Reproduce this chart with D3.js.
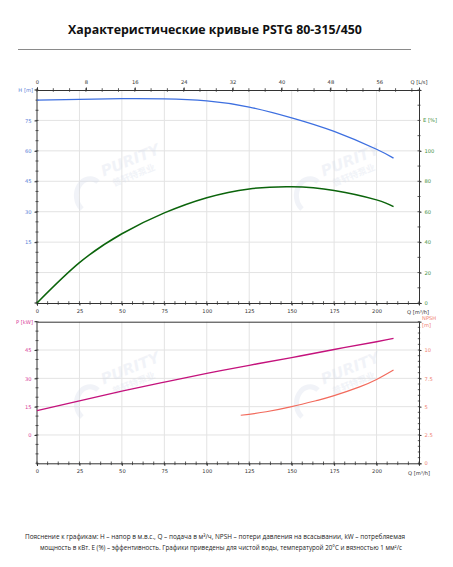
<!DOCTYPE html>
<html><head><meta charset="utf-8">
<script src="https://cdn.jsdelivr.net/npm/d3@7"></script>
<style>
html,body{margin:0;padding:0;background:#fff;}
svg{display:block;}
text{font-family:"DejaVu Sans",Verdana,sans-serif;}
</style></head>
<body>
<svg id="chart" width="453" height="567"></svg>
<script>
// ---------- data ----------
const titleText = "Характеристические кривые PSTG 80-315/450";
const qTicks = [0,25,50,75,100,125,150,175,200];
const lsTicks = [0,8,16,24,32,40,48,56];
const hTicks = [15,30,45,60,75];
const eTicks = [0,20,40,60,80,100];
const pTicks = [0,15,30,45];
const nTicks = [0,2.5,5,7.5,10];

const qCurve = [0,25,50,75,100,125,150,175,200,210];
const headH  = [85,85.4,85.7,85.6,84.6,81.6,76.3,69.6,60.8,56.4];
const effE   = [0,26.5,45.5,59.2,69.2,75,76.4,74,67.8,63.3];
const powerP = [12.9,18.1,23.2,28,32.6,36.9,41,45.3,49.4,51.2];
const qNpsh  = [120,135,150,165,175,190,200,210];
const npsh   = [4.24,4.55,5.0,5.55,5.97,6.75,7.4,8.24];

const note1 = "Пояснение к графикам: H – напор в м.в.с., Q – подача в м³/ч, NPSH – потери давления на всасывании, kW – потребляемая";
const note2 = "мощность в кВт. E (%) – эффентивность.  Графики приведены для чистой воды, температурой 20°C и вязностью 1 мм²/с";

// ---------- layout ----------
const svg = d3.select("#chart");
const L = 37, R = 419;
const top1 = 90, bot1 = 303;
const top2 = 321.7, bot2 = 463.3;

const cH = "#3d6fe0", cHl = "#5a7fd8";
const cE = "#0b640b", cEl = "#3f8f3f";
const cP = "#c4127c", cPl = "#d8409a";
const cN = "#f26a5c", cNl = "#f08272";
const gridC = "#e3e3e3", axC = "#333";
const fs = 5.2;

const x = d3.scaleLinear().domain([0,225]).range([L,R]);
const xLs = d3.scaleLinear().domain([0,62.5]).range([L,R]);
const yH = d3.scaleLinear().domain([-15,90]).range([bot1,top1]);
const yE = d3.scaleLinear().domain([0,140]).range([bot1,top1]);
const yP = d3.scaleLinear().domain([-15,60]).range([bot2,top2]);
const yN = d3.scaleLinear().domain([0,12.5]).range([bot2,top2]);

// title
svg.append("text").attr("x",215).attr("y",34).attr("text-anchor","middle")
  .style("font-family","'Open Sans',sans-serif").style("font-weight","bold").style("font-size","12.4px")
  .attr("fill","#111").text(titleText);
svg.append("line").attr("x1",18).attr("x2",411).attr("y1",49.5).attr("y2",49.5)
  .attr("stroke","#8a8a8a").attr("stroke-width",1);

// watermark
function watermark(cx, cy){
  const g = svg.append("g").attr("opacity",0.32);
  g.append("text").attr("x",cx).attr("y",cy).attr("text-anchor","middle")
    .attr("transform",`rotate(-22,${cx},${cy})`)
    .style("font-family","'DejaVu Sans',sans-serif").style("font-weight","bold").style("font-style","italic")
    .style("font-size","15px").attr("fill","#d5dcea").text("PURITY");
  g.append("text").attr("x",cx+3).attr("y",cy+13).attr("text-anchor","middle")
    .attr("transform",`rotate(-22,${cx+3},${cy+13})`)
    .style("font-family","'Noto Sans CJK SC',sans-serif").style("font-weight","bold")
    .style("font-size","9px").attr("fill","#d5dcea").text("普轩特泵业");
  g.append("path").attr("d",`M${cx-50},${cy+44} a13,16 0 1,1 16,-27`)
    .attr("fill","none").attr("stroke","#d5dcea").attr("stroke-width",5);
}

// ===== top panel grid =====
const gTop = svg.append("g");
gTop.selectAll(null).data(qTicks.filter(d=>d>0)).enter().append("line")
  .attr("x1",d=>x(d)).attr("x2",d=>x(d)).attr("y1",top1).attr("y2",bot1)
  .attr("stroke",gridC).attr("stroke-width",1);
gTop.selectAll(null).data([0,15,30,45,60,75]).enter().append("line")
  .attr("x1",L).attr("x2",R).attr("y1",d=>yH(d)).attr("y2",d=>yH(d))
  .attr("stroke",gridC).attr("stroke-width",1);

// ===== bottom panel grid =====
const gBot = svg.append("g");
gBot.selectAll(null).data(qTicks.filter(d=>d>0)).enter().append("line")
  .attr("x1",d=>x(d)).attr("x2",d=>x(d)).attr("y1",top2).attr("y2",bot2)
  .attr("stroke",gridC).attr("stroke-width",1);
gBot.selectAll(null).data(pTicks).enter().append("line")
  .attr("x1",L).attr("x2",R).attr("y1",d=>yP(d)).attr("y2",d=>yP(d))
  .attr("stroke",gridC).attr("stroke-width",1);

watermark(132,165); watermark(352,165);
watermark(132,373); watermark(352,373);

// ---- axes helpers ----
function styleAxis(sel, col){
  sel.select(".domain").attr("stroke",axC).attr("stroke-width",1);
  sel.selectAll(".tick line").attr("stroke",axC);
  sel.selectAll(".tick text").attr("fill",col).style("font-size",fs+"px").style("font-family","'DejaVu Sans',sans-serif");
}
function minorTicks(values, orient, pos, scale, len){
  const g = svg.append("g");
  g.selectAll(null).data(values).enter().append("line")
   .each(function(d){
     const s = d3.select(this);
     if(orient==="h"){ s.attr("x1",scale(d)).attr("x2",scale(d)).attr("y1",pos-len).attr("y2",pos+len); }
     else { s.attr("y1",scale(d)).attr("y2",scale(d)).attr("x1",pos-len).attr("x2",pos+len); }
   }).attr("stroke",axC).attr("stroke-width",0.8);
}
const rng = (a,b,s)=>d3.range(a,b+1e-9,s);

// top l/s axis
const axTop = svg.append("g").attr("transform",`translate(0,${top1})`)
  .call(d3.axisTop(xLs).tickValues(lsTicks).tickSize(2.5).tickPadding(4).tickFormat(d3.format("d")));
styleAxis(axTop,"#333");
minorTicks(rng(0,62.5,8/3),"h",top1,xLs,1.8);
svg.append("text").attr("x",R).attr("y",top1-6.5).attr("text-anchor","middle")
  .style("font-size",fs+"px").attr("fill","#333").text("Q [L/s]");

// top panel bottom Q axis
const axB1 = svg.append("g").attr("transform",`translate(0,${bot1})`)
  .call(d3.axisBottom(x).tickValues(qTicks).tickSize(2.5).tickPadding(4));
styleAxis(axB1,"#333");
minorTicks(rng(0,225,6.25),"h",bot1,x,1.8);
svg.append("text").attr("x",R-1).attr("y",bot1+11).attr("text-anchor","middle")
  .style("font-size",fs+"px").attr("fill","#333").text("Q [m³/h]");

// H axis left
const axH = svg.append("g").attr("transform",`translate(${L},0)`)
  .call(d3.axisLeft(yH).tickValues(hTicks).tickSize(2.5).tickPadding(3));
axH.select(".domain").attr("d",`M-2.5,${top1}H0V${bot1}H-2.5`);
styleAxis(axH,cHl);
minorTicks(rng(-15,90,5),"v",L,yH,1.5);
svg.append("text").attr("x",L-4).attr("y",top1+1.8).attr("text-anchor","end")
  .style("font-size",fs+"px").attr("fill",cHl).text("H [m]");

// E axis right
const axE = svg.append("g").attr("transform",`translate(${R},0)`)
  .call(d3.axisRight(yE).tickValues(eTicks).tickSize(2.5).tickPadding(3));
styleAxis(axE,cEl);
minorTicks(rng(0,140,10),"v",R,yE,1.5);
svg.append("text").attr("x",R+4).attr("y",yE(120)+1.8).attr("text-anchor","start")
  .style("font-size",fs+"px").attr("fill",cEl).text("E [%]");

// bottom panel axes
const axT2 = svg.append("g").attr("transform",`translate(0,${top2})`)
  .call(d3.axisTop(x).tickValues([]).tickSize(0));
styleAxis(axT2,"#333");
const axB2 = svg.append("g").attr("transform",`translate(0,${bot2})`)
  .call(d3.axisBottom(x).tickValues(qTicks).tickSize(2.5).tickPadding(4));
styleAxis(axB2,"#333");
minorTicks(rng(0,225,6.25),"h",bot2,x,1.8);
svg.append("text").attr("x",R).attr("y",bot2+11.5).attr("text-anchor","middle")
  .style("font-size",fs+"px").attr("fill","#333").text("Q [m³/h]");

const axP = svg.append("g").attr("transform",`translate(${L},0)`)
  .call(d3.axisLeft(yP).tickValues(pTicks).tickSize(2.5).tickPadding(3));
axP.select(".domain").attr("d",`M-2.5,${top2}H0V${bot2}`);
styleAxis(axP,cPl);
minorTicks(rng(-15,60,5),"v",L,yP,1.5);
svg.append("text").attr("x",L-4).attr("y",top2+1.8).attr("text-anchor","end")
  .style("font-size",fs+"px").attr("fill",cPl).text("P [kW]");

const axN = svg.append("g").attr("transform",`translate(${R},0)`)
  .call(d3.axisRight(yN).tickValues(nTicks).tickSize(2.5).tickPadding(3).tickFormat(d=>d));
styleAxis(axN,cNl);
minorTicks(rng(0,12.5,0.5),"v",R,yN,1.2);
svg.append("text").attr("x",R+3).attr("y",top2-2).style("font-size",fs+"px").attr("fill",cNl).text("NPSH");
svg.append("text").attr("x",R+3).attr("y",top2+5).style("font-size",fs+"px").attr("fill",cNl).text("[m]");

// ---- curves ----
const curve = d3.curveNatural;
const lineH = d3.line().x((d,i)=>x(qCurve[i])).y(d=>yH(d)).curve(curve);
const lineE = d3.line().x((d,i)=>x(qCurve[i])).y(d=>yE(d)).curve(curve);
const lineP = d3.line().x((d,i)=>x(qCurve[i])).y(d=>yP(d)).curve(curve);
const lineN = d3.line().x((d,i)=>x(qNpsh[i])).y(d=>yN(d)).curve(curve);

svg.append("path").attr("d",lineH(headH)).attr("fill","none").attr("stroke",cH).attr("stroke-width",1.3);
svg.append("path").attr("d",lineE(effE)).attr("fill","none").attr("stroke",cE).attr("stroke-width",1.5);
svg.append("path").attr("d",lineP(powerP)).attr("fill","none").attr("stroke",cP).attr("stroke-width",1.4);
svg.append("path").attr("d",lineN(npsh)).attr("fill","none").attr("stroke",cN).attr("stroke-width",1.2);

// footnote
svg.append("text").attr("x",215).attr("y",539).attr("text-anchor","middle")
  .style("font-family","'Open Sans',sans-serif").style("font-size","6.4px").attr("fill","#222")
  .attr("textLength",380).attr("lengthAdjust","spacingAndGlyphs").text(note1);
svg.append("text").attr("x",221).attr("y",550).attr("text-anchor","middle")
  .style("font-family","'Open Sans',sans-serif").style("font-size","6.4px").attr("fill","#222")
  .attr("textLength",362).attr("lengthAdjust","spacingAndGlyphs").text(note2);
</script>
</body></html>
